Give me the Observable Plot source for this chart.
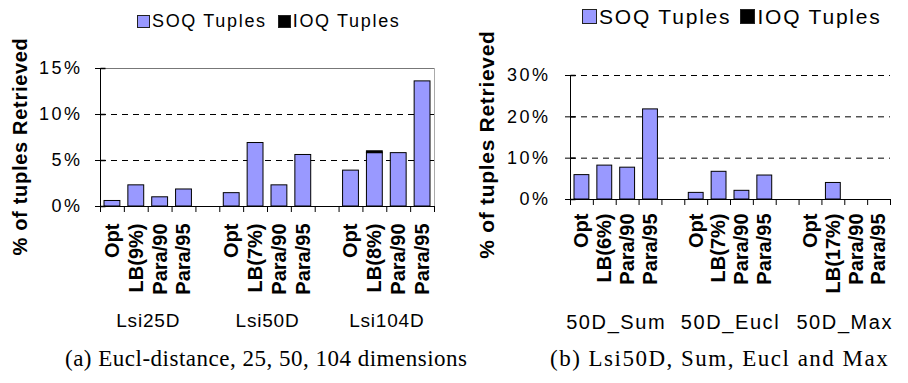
<!DOCTYPE html>
<html><head><meta charset="utf-8">
<script src="https://cdn.jsdelivr.net/npm/d3@7"></script>
<script src="https://cdn.jsdelivr.net/npm/@observablehq/plot@0.6"></script>
<style>
body{margin:0;background:#fff}
#c{position:relative;width:908px;height:383px;overflow:hidden;font-family:"Liberation Sans",Arial,sans-serif;color:#000;background:#fff}
.abs{position:absolute;white-space:nowrap}
.sw{position:absolute;box-sizing:border-box;border:1px solid #222}
.cap{font-family:"Liberation Serif","Times New Roman",serif;font-size:23px;line-height:23px}
</style></head><body><div id="c"></div>
<script>
// ---------- data ----------
const seriesNames = ["SOQ Tuples", "IOQ Tuples"];
const yLabel = "% of tuples Retrieved";

const groupsA = ["Lsi25D", "Lsi50D", "Lsi104D"];
const methodsA = [
  ["Opt", "LB(9%)", "Para/90", "Para/95"],
  ["Opt", "LB(7%)", "Para/90", "Para/95"],
  ["Opt", "LB(8%)", "Para/90", "Para/95"]
];
const soqA = [[0.6, 2.3, 1.0, 1.85], [1.45, 6.9, 2.3, 5.6], [3.9, 5.8, 5.8, 13.6]];
const ioqA = [[0, 0, 0, 0], [0, 0, 0, 0], [0, 0.2, 0, 0]];
const yTicksA = [0, 5, 10, 15];
const gridA = [5, 10];
const captionA = "(a) Eucl-distance, 25, 50, 104 dimensions";

const groupsB = ["50D_Sum", "50D_Eucl", "50D_Max"];
const methodsB = [
  ["Opt", "LB(6%)", "Para/90", "Para/95"],
  ["Opt", "LB(7%)", "Para/90", "Para/95"],
  ["Opt", "LB(17%)", "Para/90", "Para/95"]
];
const soqB = [[5.9, 8.2, 7.7, 21.8], [1.6, 6.7, 2.1, 5.8], [0, 4.0, 0, 0]];
const ioqB = [[0, 0, 0, 0], [0, 0, 0, 0], [0, 0, 0, 0]];
const yTicksB = [0, 10, 20, 30];
const gridB = [10, 20, 30];
const captionB = "(b) Lsi50D, Sum, Eucl and Max";

// ---------- drawing ----------
const inTick = {draw(ctx) { ctx.moveTo(0, 0); ctx.lineTo(5, 0); }};

function panel(cfg) {
  const rows = [];
  cfg.groups.forEach((g, gi) => cfg.methods[gi].forEach((m, j) =>
    rows.push({slot: gi * 5 + j, label: m, soq: cfg.soq[gi][j], ioq: cfg.ioq[gi][j]})));
  const nSlots = cfg.groups.length * 5 - 1;
  const yMax = cfg.yTicks[cfg.yTicks.length - 1];
  const marks = [
    Plot.ruleY(cfg.grid, {stroke: "#000", strokeDasharray: "6,5"})
  ];
  if (cfg.frame) {
    marks.push(Plot.ruleY([yMax], {x1: 0, x2: nSlots, stroke: "#777"}));
    marks.push(Plot.ruleX([nSlots], {y1: 0, y2: yMax, stroke: "#aaa"}));
  }
  marks.push(
    Plot.rectY(rows.filter(d => d.soq > 0), {x1: "slot", x2: d => d.slot + 1, y1: 0, y2: "soq",
      insetLeft: 4, insetRight: 4, fill: "#9999ff", stroke: "#000", strokeWidth: 1}),
    Plot.rectY(rows.filter(d => d.ioq > 0), {x1: "slot", x2: d => d.slot + 1, y1: "soq", y2: d => d.soq + d.ioq,
      insetLeft: 4, insetRight: 4, fill: "#000", stroke: "#000"}),
    Plot.ruleY([0], {stroke: "#000"}),
    Plot.ruleX([0], {y1: 0, y2: yMax, stroke: "#000"}),
    Plot.dot(cfg.yTicks, {x: 0, y: d => d, symbol: inTick, stroke: "#000", fill: "none"}),
    Plot.text(rows, {x: d => d.slot + 0.5, text: "label", frameAnchor: "bottom", dy: cfg.labelDy,
      rotate: -90, textAnchor: "end", lineAnchor: "middle", fontWeight: "bold", fontSize: 20, fill: "#000"}),
    Plot.text(cfg.groups, {x: (d, i) => i * 5 + 2, frameAnchor: "bottom", dy: cfg.groupDy,
      lineAnchor: "middle", fontSize: cfg.groupFont, fill: "#000", ariaDescription: "groups"}),
    Plot.text([yLabel], {frameAnchor: "left", dx: cfg.ylDx, dy: cfg.ylDy, rotate: -90,
      textAnchor: "middle", lineAnchor: "middle", fontWeight: "bold", fontSize: cfg.ylFont, fill: "#000",
      ariaDescription: "ylabel"})
  );
  const svg = Plot.plot({
    width: cfg.width, height: cfg.height,
    marginLeft: cfg.ml, marginRight: cfg.mr, marginTop: cfg.mt, marginBottom: cfg.mb,
    x: {domain: [0, nSlots], ticks: d3.range(nSlots + 1), tickFormat: () => "", tickSize: 6, label: null},
    y: {domain: [0, yMax], ticks: cfg.yTicks, tickFormat: d => d + "%", tickSize: 5, tickPadding: cfg.tickPad, label: null},
    style: {fontFamily: "'Liberation Sans', Arial, sans-serif", fontSize: "18px", background: "transparent", color: "#000", overflow: "visible"},
    marks
  });
  const set = (sel, ls) => svg.querySelectorAll(sel).forEach(g => g.style.letterSpacing = ls);
  set('[aria-label^="y-axis"]', "2.5px");
  set('[aria-description="groups"]', cfg.groupLs);
  set('[aria-description="ylabel"]', "0.7px");
  return svg;
}

const root = document.getElementById("c");
function place(el, left, top) {
  const d = document.createElement("div");
  d.className = "abs"; d.style.left = left + "px"; d.style.top = top + "px";
  d.appendChild(el); root.appendChild(d); return d;
}

place(panel({groups: groupsA, methods: methodsA, soq: soqA, ioq: ioqA, yTicks: yTicksA, grid: gridA,
  frame: true, width: 455, height: 340, ml: 100, mr: 21, mt: 68, mb: 134, tickPad: 13,
  labelDy: 17, groupDy: 114, groupFont: 19, groupLs: "0.8px", ylDx: -80, ylDy: 9, ylFont: 20}), 0, 0);

place(panel({groups: groupsB, methods: methodsB, soq: soqB, ioq: ioqB, yTicks: yTicksB, grid: gridB,
  frame: false, width: 453, height: 340, ml: 115, mr: 18, mt: 75, mb: 141, tickPad: 15,
  labelDy: 14, groupDy: 123, groupFont: 20, groupLs: "1.6px", ylDx: -83, ylDy: 7, ylFont: 21}), 455, 0);

// legends
function legend(x0, top, sw, swTop, font, ls, gap) {
  const colors = ["#9999ff", "#000"];
  let x = x0;
  seriesNames.forEach((name, i) => {
    const s = document.createElement("div");
    s.className = "sw";
    Object.assign(s.style, {left: x + "px", top: swTop + "px", width: sw + "px", height: sw + "px", background: colors[i]});
    root.appendChild(s);
    const t = document.createElement("div");
    t.className = "abs";
    Object.assign(t.style, {left: (x + sw + 2) + "px", top: top + "px", fontSize: font + "px", lineHeight: font + "px", letterSpacing: ls + "px"});
    t.textContent = name;
    root.appendChild(t);
    x = x + sw + 2 + t.getBoundingClientRect().width + gap;
  });
}
legend(137, 12, 13, 15, 18, 1.67, 11);
legend(582, 6, 15, 9, 21, 1.8, 9);

// captions
const ca = document.createElement("div");
ca.className = "abs cap"; ca.style.left = "65px"; ca.style.top = "347px"; ca.style.letterSpacing = "0.5px";
ca.textContent = captionA; root.appendChild(ca);
const cb = document.createElement("div");
cb.className = "abs cap"; cb.style.left = "550px"; cb.style.top = "347px"; cb.style.letterSpacing = "1.5px";
cb.textContent = captionB; root.appendChild(cb);
</script></body></html>
